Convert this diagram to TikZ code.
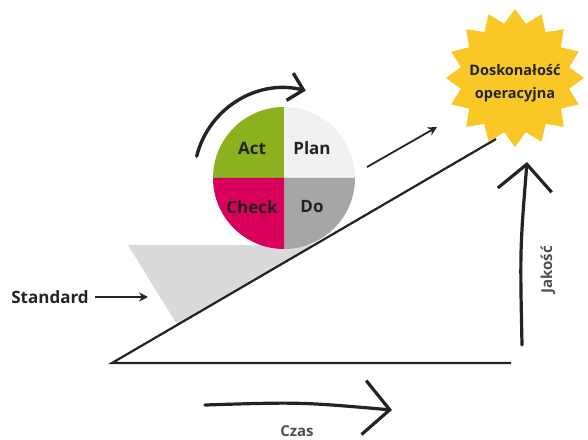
\documentclass[tikz,border=0pt]{standalone}
\usepackage{fontspec}
\setmainfont{Open Sans}
\usepackage{tikz}
\usetikzlibrary{shapes,arrows.meta,positioning,calc}
\definecolor{actgreen}{RGB}{141, 176, 31}
\definecolor{planwhite}{RGB}{241, 241, 241}
\definecolor{checkred}{RGB}{217, 0, 92}
\definecolor{dogray}{RGB}{166, 166, 166}
\definecolor{wedgegray}{RGB}{218, 218, 218}
\definecolor{staryellow}{RGB}{249, 199, 38}
\definecolor{ink}{RGB}{35, 35, 35}
\tikzstyle{lbl} = [text=ink, font=\bfseries\fontsize{17}{20}\selectfont, inner sep=0pt]
\tikzstyle{axlbl} = [text=ink!80, font=\bfseries\fontsize{15}{18}\selectfont, inner sep=0pt]
\tikzstyle{goalstar} = [star, star points=16, star point ratio=1.25, minimum size=138pt, fill=staryellow, inner sep=0pt]
\tikzstyle{slope} = [draw=ink, line width=2.2pt, line join=miter]
\tikzstyle{bigarrow} = [draw=ink, line width=3.2pt, line cap=round, -{Straight Barb[length=26pt, width=54pt]}]
\tikzstyle{turnarrow} = [draw=ink, line width=3.4pt, line cap=round, -{Straight Barb[length=14pt, width=28pt]}]
\tikzstyle{tedge}  = [draw=ink, line width=1.8pt, -{Stealth[length=9pt, width=9pt]}]

\begin{document}
\begin{tikzpicture}[x=1pt, y=1pt]
\useasboundingbox (0,0) rectangle (588,439);

% slope =============================
\coordinate (base) at (112,76);
\coordinate (baseend) at (511,76);
\coordinate (top) at (496,300);
\fill[wedgegray] (128,194) -- ($(base)!0.17!(top)$) -- ($(base)!0.527!(top)$) -- cycle;
\draw[slope] (baseend) -- (base) -- (top);

% pdca wheel
\coordinate (pdca) at (284,261);
\fill[actgreen] (pdca) -- ++(180:71) arc (180:90:71) -- cycle;
\fill[planwhite] (pdca) -- ++(90:71) arc (90:0:71) -- cycle;
\fill[dogray] (pdca) -- ++(0:71) arc (0:-90:71) -- cycle;
\fill[checkred] (pdca) -- ++(270:71) arc (270:180:71) -- cycle;
\node[lbl] (act) at ($(pdca)+(-32,30)$) {Act};
\node[lbl] (plan) at ($(pdca)+(28,30)$) {Plan};
\node[lbl] (check) at ($(pdca)+(-32,-29)$) {Check};
\node[lbl] (do) at ($(pdca)+(28,-29)$) {Do};

% goal
\node[goalstar] (goal) at (515,361) {};
\node[lbl, align=center, font=\bfseries\fontsize{14.5}{23}\selectfont] (goaltext) at (515,356) {Doskonałość\\operacyjna};

% labels
\node[lbl] (standard) at (50,142) {Standard};
\node[axlbl] (czas) at (297,8) {Czas};
\node[axlbl, rotate=90] (jakosc) at (548,169) {Jakość};

\coordinate (wedge) at (148,142);
\coordinate (riseA) at (367,272);
\coordinate (riseB) at (437,312);
\coordinate (timeA) at (205,34);
\coordinate (timeB) at (392,29);
\coordinate (qualA) at (522,94);
\coordinate (qualB) at (527,277);
\coordinate (turnA) at ($(pdca)+(166:90)$);

%edges
\path[tedge, shorten <=6pt] (standard) -- (wedge);
\path[tedge] (riseA) -- (riseB);
\path[bigarrow] (timeA) .. controls (300,37) .. (timeB);
\path[bigarrow] (qualA) .. controls (520,190) .. (qualB);
\draw[turnarrow] (turnA) arc (166:76:90);

\end{tikzpicture}
\end{document}
